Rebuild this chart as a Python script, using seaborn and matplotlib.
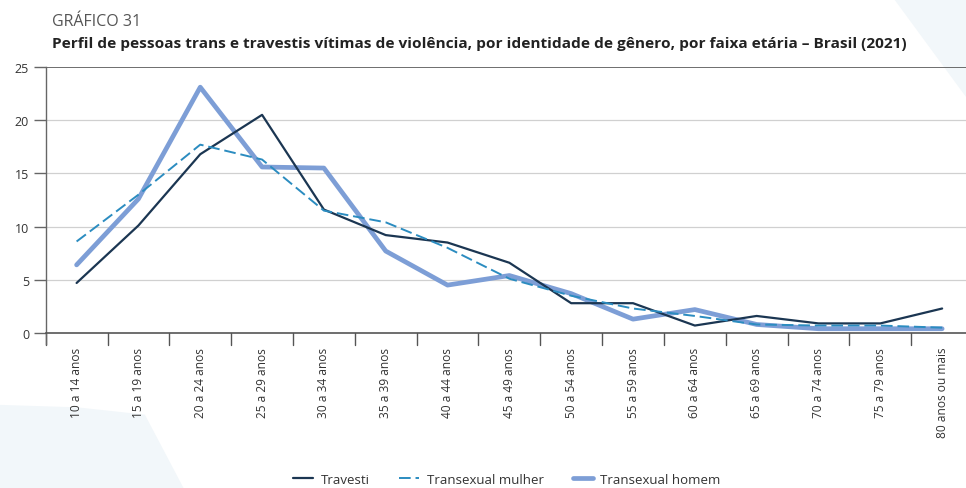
import matplotlib
matplotlib.use("Agg")
import matplotlib.pyplot as plt
import seaborn as sns
import pandas as pd
import numpy as np
from matplotlib.patches import Polygon

categories = ["10 a 14 anos", "15 a 19 anos", "20 a 24 anos", "25 a 29 anos",
              "30 a 34 anos", "35 a 39 anos", "40 a 44 anos", "45 a 49 anos",
              "50 a 54 anos", "55 a 59 anos", "60 a 64 anos", "65 a 69 anos",
              "70 a 74 anos", "75 a 79 anos", "80 anos ou mais"]
travesti = [4.7, 10.1, 16.8, 20.5, 11.6, 9.2, 8.5, 6.6, 2.8, 2.8, 0.7, 1.6, 0.9, 0.9, 2.3]
trans_mulher = [8.6, 13.0, 17.7, 16.3, 11.5, 10.4, 8.0, 5.1, 3.5, 2.3, 1.6, 0.8, 0.7, 0.7, 0.5]
trans_homem = [6.4, 12.6, 23.1, 15.6, 15.5, 7.7, 4.5, 5.4, 3.7, 1.3, 2.2, 0.8, 0.4, 0.4, 0.4]
series_names = ["Travesti", "Transexual mulher", "Transexual homem"]
yticks = [0, 5, 10, 15, 20, 25]

df = pd.DataFrame({
    "faixa": categories * 3,
    "pos": list(range(len(categories))) * 3,
    "valor": travesti + trans_mulher + trans_homem,
    "serie": [series_names[0]] * 15 + [series_names[1]] * 15 + [series_names[2]] * 15,
})

sns.set_theme(style="white")
plt.rcParams["font.family"] = ["Open Sans", "DejaVu Sans"]

fig = plt.figure(figsize=(9.66, 4.89), dpi=100)

# background decoration
bg = "#f2f7fa"
fig.patches.append(Polygon([[0.925, 1.0], [1.0, 1.0], [1.0, 0.80]],
                           closed=True, transform=fig.transFigure, facecolor=bg,
                           edgecolor="none", zorder=-10))
fig.patches.append(Polygon([[0.0, 0.0], [0.0, 0.17], [0.08, 0.165], [0.15, 0.15],
                            [0.19, 0.0]], closed=True, transform=fig.transFigure,
                           facecolor=bg, edgecolor="none", zorder=-10))

ax = fig.add_axes([0.0473, 0.317, 0.96, 0.544])
ax.patch.set_alpha(0)

colors = {"Travesti": "#1b3652", "Transexual mulher": "#2b8cc0", "Transexual homem": "#7d9ed6"}
widths = {"Travesti": 1.6, "Transexual mulher": 1.4, "Transexual homem": 3.4}
dashes = {"Travesti": "", "Transexual mulher": (6, 2.5), "Transexual homem": ""}

for name in series_names:
    sub = df[df["serie"] == name]
    sns.lineplot(data=sub, x="pos", y="valor", ax=ax, color=colors[name],
                 linewidth=widths[name], label=name, zorder=3 if name != "Transexual homem" else 2)
    line = ax.get_lines()[-1]
    if dashes[name]:
        line.set_dashes(dashes[name])

ax.set_xlim(-0.5, len(categories) - 0.5)
ax.set_ylim(0, 25)
ax.set_yticks(yticks)
ax.set_yticklabels([str(v) for v in yticks], fontsize=9, color="#333333")
ax.set_xticks(range(len(categories)))
ax.set_xticklabels(categories, rotation=90, fontsize=8.6, color="#333333")
ax.set_xlabel("")
ax.set_ylabel("")

for v in [5, 10, 15, 20]:
    ax.axhline(v, color="#d0d0d0", linewidth=0.9, zorder=1)
ax.axhline(25, color="#555555", linewidth=1.2, zorder=1)

for s in ["top", "right"]:
    ax.spines[s].set_visible(False)
ax.spines["left"].set_color("#666666")
ax.spines["bottom"].set_color("#555555")
ax.spines["left"].set_linewidth(1.0)
ax.spines["bottom"].set_linewidth(1.2)
ax.spines["left"].set_bounds(-1.0, 25)

ax.tick_params(axis="y", direction="out", length=9, width=1.0, color="#666666", pad=3, left=True)
ax.tick_params(axis="x", length=0, pad=10)
# category boundary ticks
for b in np.arange(0.5, len(categories) - 0.5, 1.0):
    ax.plot([b, b], [0, -1.1], color="#555555", linewidth=1.0, clip_on=False, zorder=1)
ax.plot([-0.5, -0.5], [0, -1.1], color="#555555", linewidth=1.0, clip_on=False, zorder=1)

handles, labels = ax.get_legend_handles_labels()
ax.get_legend().remove()
fig.legend(handles, labels, loc="center", bbox_to_anchor=(0.525, 0.018), ncol=3,
           frameon=False, fontsize=9.5, handlelength=1.5, handletextpad=0.6,
           columnspacing=2.2, labelcolor="#333333")

fig.text(0.054, 0.955, "GRÁFICO 31", fontsize=11.5, color="#555555", va="center", ha="left")
fig.text(0.054, 0.91, "Perfil de pessoas trans e travestis vítimas de violência, por identidade de gênero, por faixa etária – Brasil (2021)",
         fontsize=11.1, fontweight="bold", color="#222222", va="center", ha="left")

fig.savefig("out.png", dpi=100)
